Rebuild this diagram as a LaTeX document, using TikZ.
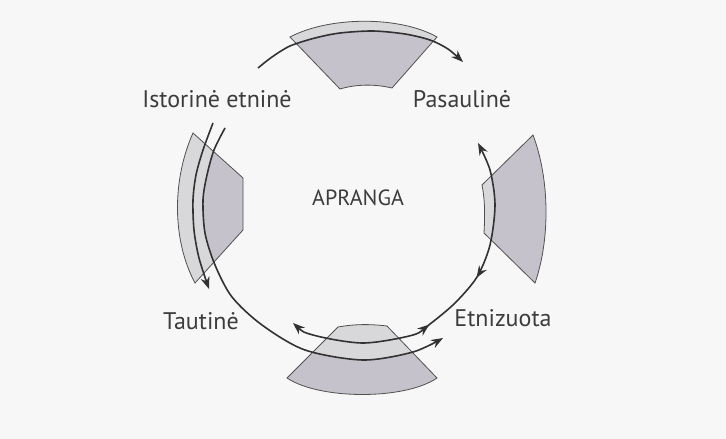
\documentclass[tikz,border=0pt]{standalone}
\usepackage{fontspec}
\setmainfont{PT Sans}
\usetikzlibrary{arrows.meta,decorations.markings}
\definecolor{bg}{RGB}{247,247,247}
\definecolor{lightsec}{RGB}{216,215,218}
\definecolor{bodysec}{RGB}{198,194,203}
\definecolor{ink}{RGB}{50,50,50}
\begin{document}
\begin{tikzpicture}[x=1pt,y=-1pt,
  line/.style={draw=ink, line width=1.6pt},
  sec/.style={draw=ink!85, line width=0.8pt},
  lbl/.style={font=\fontsize{24}{26}\selectfont, text=ink!95, inner sep=0pt},
  tip/.style={-{Stealth[length=12pt,width=9pt]}}
]
\fill[bg] (0,0) rectangle (726,439);
\useasboundingbox (0,0) rectangle (726,439);

\def\topsec{(290,37) .. controls (330,16) and (400,16) .. (437,37) -- (392,88) .. controls (375,84) and (357,84) .. (340,89) -- cycle}
\def\rightsec{(533,135) .. controls (550,180) and (550,240) .. (535,283) -- (484,233) .. controls (485,215) and (485,200) .. (482,185) -- cycle}
\def\leftsec{(193,133) -- (243,178) -- (243,230) -- (195,283) .. controls (172,240) and (172,180) .. cycle}
\def\botsec{(338,327) .. controls (355,324) and (370,324) .. (387,326) -- (437,378) .. controls (405,400) and (320,400) .. (287,378) -- cycle}

% sectors: body
\fill[bodysec] \topsec;
\fill[bodysec] \rightsec;
\fill[bodysec] \leftsec;
\fill[bodysec] \botsec;
% lighter bands
\begin{scope}
  \clip \topsec;
  \fill[lightsec] plot[smooth] coordinates {(258,68) (272,57) (290,46) (315,38) (340,33) (373,31) (405,34) (430,40) (448,49) (463,62)} -- (470,0) -- (250,0) -- cycle;
\end{scope}
\begin{scope}
  \clip \rightsec;
  \fill[lightsec] plot[smooth] coordinates {(455,303) (477,277) (490,245) (495,205) (490,170) (478,143)} -- (460,120) -- (460,320) -- cycle;
\end{scope}
\begin{scope}
  \clip \leftsec;
  \fill[lightsec] plot[smooth] coordinates {(225,128) (214,150) (207,175) (203,200) (205,233) (215,265) (232,297)} -- (150,300) -- (150,100) -- cycle;
\end{scope}
\begin{scope}
  \clip \botsec;
  \fill[lightsec] plot[smooth] coordinates {(262,325) (305,350) (363,360) (413,352) (443,338)} -- (443,300) -- (262,300) -- cycle;
\end{scope}
\draw[sec] \topsec;
\draw[sec] \rightsec;
\draw[sec] \leftsec;
\draw[sec] \botsec;

% connectors
\draw[line, tip] plot[smooth] coordinates {(258,68) (272,57) (290,46) (315,38) (340,33) (373,31) (405,34) (430,40) (448,49) (463,62)};
\draw[line, tip] plot[smooth] coordinates {(213,123) (203,150) (196,175) (193,200) (194,230) (199,258) (209,289)};
\draw[line, tip] plot[smooth] coordinates {(225,128) (214,150) (207,175) (203,200) (205,233) (215,265) (232,297) (262,325) (305,350) (363,360) (413,352) (443,338)};
\draw[line, {Stealth[length=12pt,width=9pt]}-{Stealth[length=12pt,width=9pt]},
  postaction={decorate},
  decoration={markings,
    mark=at position 0.41 with {\arrow{Stealth[length=12pt,width=9pt]}},
    mark=at position 0.60 with {\arrowreversed{Stealth[length=12pt,width=9pt]}}}]
  plot[smooth] coordinates {(293,323) (313,335) (363,343) (413,335) (430,324) (455,303) (477,277) (490,245) (495,205) (490,170) (478,143)};

% labels
\node[lbl] (ist) at (217,99) {Istorinė etninė};
\node[lbl] (pas) at (462,99) {Pasaulinė};
\node[lbl, font=\fontsize{22}{24}\selectfont] (apr) at (358,198) {APRANGA};
\node[lbl] (tau) at (201,321) {Tautinė};
\node[lbl] (etn) at (503,318) {Etnizuota};
\end{tikzpicture}
\end{document}
